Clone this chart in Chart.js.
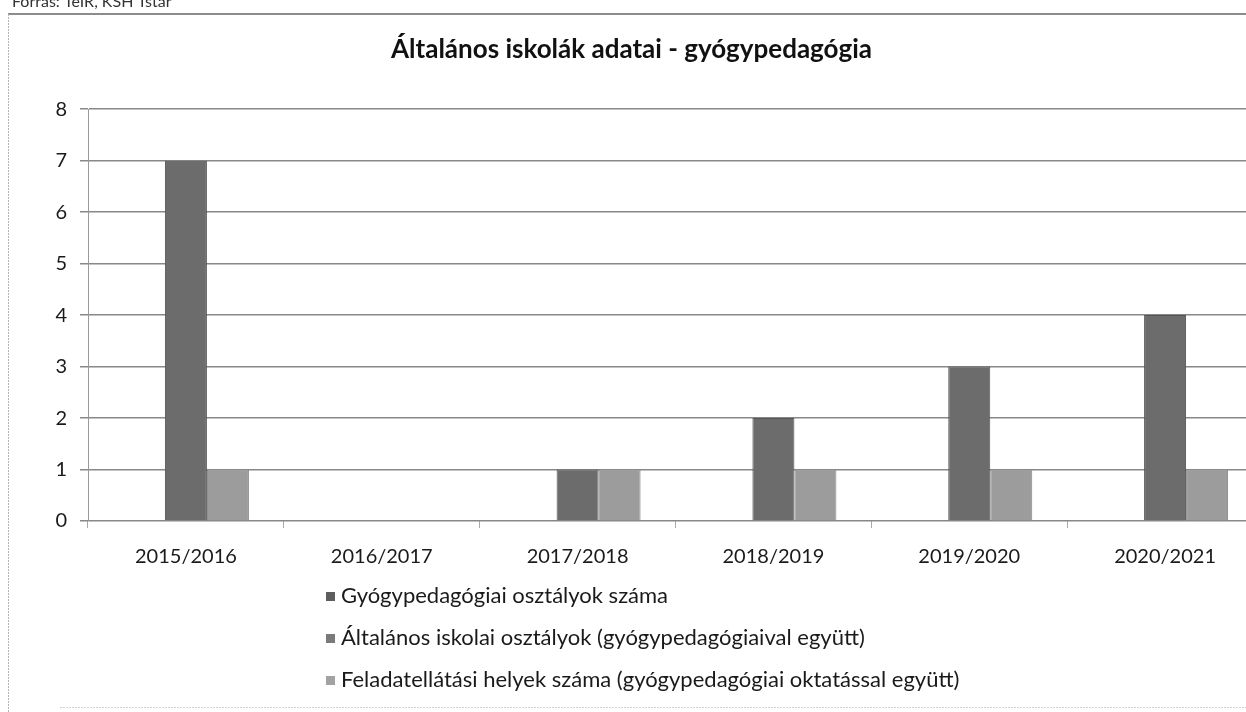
<!DOCTYPE html>
<html>
<head>
<meta charset="utf-8">
<title>Általános iskolák adatai - gyógypedagógia</title>
<script src="https://cdn.jsdelivr.net/npm/chart.js@4.4.0/dist/chart.umd.min.js"></script>
<style>
  html, body { margin: 0; padding: 0; background: #fff; overflow: hidden; }
  #wrap { width: 1270px; height: 712px; }
</style>
</head>
<body>
<div id="wrap"><canvas id="chart" width="1270" height="712"></canvas></div>
<script>
// chart data
const years = ["2015/2016", "2016/2017", "2017/2018", "2018/2019", "2019/2020", "2020/2021"];
const gyogyOsztalyok = [7, 0, 1, 2, 3, 4];
const altalanosOsztalyok = [null, null, null, null, null, null]; // not visible in the source picture
const feladatHelyek = [1, 0, 1, 1, 1, 1];
const seriesLabels = [
  "Gyógypedagógiai osztályok száma",
  "Általános iskolai osztályok (gyógypedagógiaival együtt)",
  "Feladatellátási helyek száma (gyógypedagógiai oktatással együtt)",
];
const yMax = 8;
const sourceNote = "Forrás: TeIR, KSH Tstar";

const barColors = ["#6c6c6c", "#808080", "#9c9c9c"];
const legendColors = ["#5e5e5e", "#7a7a7a", "#a2a2a2"];

// frame + source line behind the chart
const framePlugin = {
  id: "frame",
  beforeDraw(chart) {
    const ctx = chart.ctx;
    ctx.save();
    ctx.fillStyle = "#333";
    ctx.font = "16px Lato";
    ctx.textBaseline = "alphabetic";
    ctx.fillText(sourceNote, 12, 7);
    ctx.strokeStyle = "#666";
    ctx.lineWidth = 1.5;
    ctx.beginPath();
    ctx.moveTo(8, 14);
    ctx.lineTo(1270, 14);
    ctx.stroke();
    ctx.strokeStyle = "#b5b5b5";
    ctx.lineWidth = 1;
    ctx.setLineDash([2, 1]);
    ctx.beginPath();
    ctx.moveTo(8.5, 14);
    ctx.lineTo(8.5, 712);
    ctx.stroke();
    ctx.strokeStyle = "#d0d0d0";
    ctx.beginPath();
    ctx.moveTo(60, 707.5);
    ctx.lineTo(1270, 707.5);
    ctx.stroke();
    ctx.restore();
  },
};

// legend drawn as a vertical list under the axis
const listLegend = {
  id: "listLegend",
  afterDraw(chart) {
    const ctx = chart.ctx;
    ctx.save();
    ctx.font = "22px Lato";
    ctx.textBaseline = "middle";
    chart.data.datasets.forEach((ds, i) => {
      const y = chart.chartArea.bottom + 75 + i * 42;
      ctx.fillStyle = legendColors[i];
      ctx.fillRect(326, y - 4, 9, 9);
      ctx.fillStyle = "#1a1a1a";
      ctx.fillText(ds.label, 341, y);
    });
    ctx.restore();
  },
};

new Chart(document.getElementById("chart"), {
  type: "bar",
  data: {
    labels: years,
    datasets: [
      { label: seriesLabels[0], data: gyogyOsztalyok, backgroundColor: barColors[0], borderColor: "#555", borderWidth: 1, order: 1 },
      { label: seriesLabels[1], data: altalanosOsztalyok, backgroundColor: barColors[1], borderColor: "#666", borderWidth: 1, order: 0 },
      { label: seriesLabels[2], data: feladatHelyek, backgroundColor: barColors[2], borderColor: "#888", borderWidth: 1, order: 2 },
    ],
  },
  options: {
    responsive: false,
    animation: false,
    devicePixelRatio: 1,
    categoryPercentage: 0.6435,
    barPercentage: 1,
    layout: { padding: { left: 0, right: 7, top: 0, bottom: 141 } },
    plugins: {
      legend: { display: false },
      tooltip: { enabled: false },
      title: {
        display: true,
        text: "Általános iskolák adatai - gyógypedagógia",
        color: "#111",
        font: { family: "Lato", size: 26, weight: "bold", lineHeight: 1.2 },
        padding: { top: 34, bottom: 44 },
      },
    },
    scales: {
      x: {
        grid: { drawOnChartArea: false, drawTicks: true, tickLength: 7, color: "#aaa" },
        border: { display: false },
        ticks: { color: "#1a1a1a", font: { family: "Lato", size: 20 }, padding: 17, maxRotation: 0 },
        afterFit: (s) => { s.height = 50; },
      },
      y: {
        min: 0,
        max: yMax,
        ticks: { stepSize: 1, color: "#1a1a1a", font: { family: "Lato", size: 20 }, padding: 13 },
        grid: { color: "#888", lineWidth: 1.5, tickLength: 8 },
        border: { display: true, color: "#9a9a9a", width: 1 },
        afterFit: (s) => { s.width = 88; },
      },
    },
  },
  plugins: [framePlugin, listLegend],
});
</script>
</body>
</html>
